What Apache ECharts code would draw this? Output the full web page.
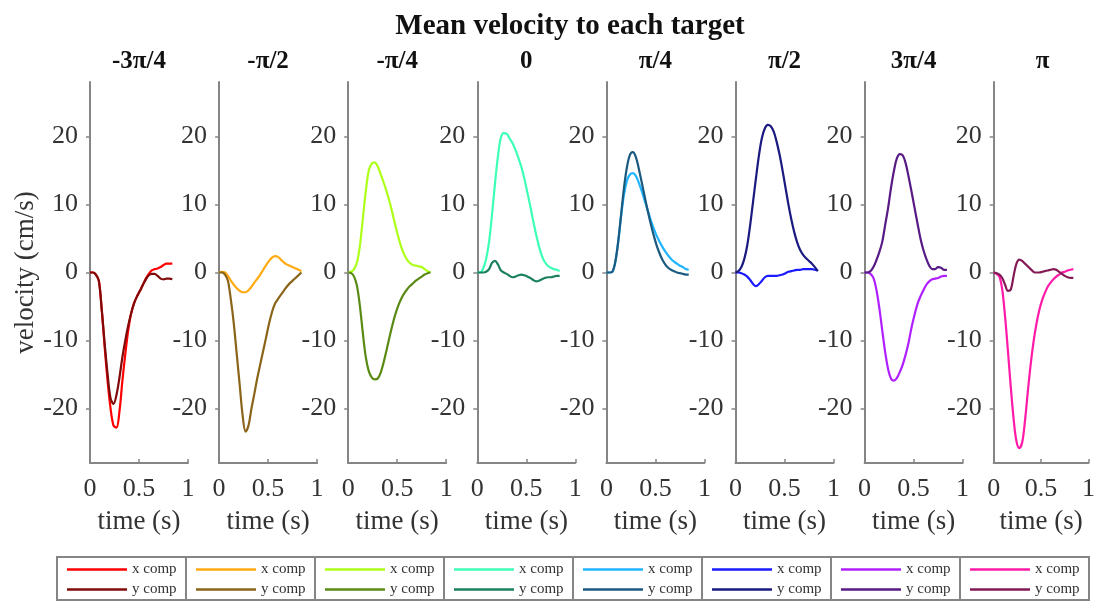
<!DOCTYPE html>
<html>
<head>
<meta charset="utf-8">
<title>Mean velocity to each target</title>
<script src="https://cdn.jsdelivr.net/npm/echarts@6/dist/echarts.min.js"></script>
<style>
  html, body { margin: 0; padding: 0; background: #fff; }
  #chart { width: 1098px; height: 602px; }
</style>
</head>
<body>
<div id="chart"></div>
<script>
// Sample times (s) shared by every trace
const time = [0, 0.03, 0.06, 0.09, 0.12, 0.15, 0.18, 0.21, 0.24, 0.27, 0.30, 0.33, 0.36, 0.39, 0.42,
              0.45, 0.48, 0.51, 0.54, 0.57, 0.60, 0.63, 0.66, 0.69, 0.72, 0.75, 0.78, 0.81, 0.84];

// Target directions, one panel each
const targets = ['-3π/4', '-π/2', '-π/4', '0', 'π/4', 'π/2', '3π/4', 'π'];

// Mean velocity (cm/s), x and y components per target
const xNeg3Pi4 = [0, 0, -0.3, -1.2, -5.5, -11, -16, -20, -22.5, -22.8, -20.5, -16, -12, -8.5, -6,
                  -4.5, -3.5, -2.7, -1.8, -0.9, -0.2, 0.3, 0.5, 0.6, 0.8, 1.1, 1.3, 1.3, 1.3];
const yNeg3Pi4 = [0, 0, -0.3, -1.2, -5.5, -10.5, -15, -18.5, -19.3, -18, -15.5, -12.5, -10, -7.8, -6,
                  -4.5, -3.5, -2.7, -1.8, -1.0, -0.4, -0.2, -0.2, -0.5, -0.9, -1.0, -0.9, -0.9, -1.0];

const xNegPi2 = [0, 0.1, 0, -0.5, -1.2, -1.8, -2.3, -2.7, -2.9, -2.9, -2.6, -2.1, -1.5, -0.9, -0.3,
                 0.4, 1.1, 1.7, 2.2, 2.4, 2.3, 1.9, 1.5, 1.2, 1.0, 0.8, 0.6, 0.4, 0.2];
const yNegPi2 = [0, 0, -0.3, -1.2, -4, -7.5, -12, -16.5, -21, -23.4, -22.5, -20, -17.8, -15.5, -13.5,
                 -11.5, -9.5, -7.5, -5.8, -4.6, -3.9, -3.3, -2.7, -2.1, -1.6, -1.2, -0.8, -0.4, 0];

const xNegPi4 = [0, 0.1, 0.5, 1.5, 4, 8, 12, 15, 16, 16.2, 15.6, 14.5, 13.3, 12, 10.5,
                 8.8, 7.0, 5.3, 3.8, 2.7, 1.9, 1.4, 1.1, 1.0, 0.9, 0.8, 0.5, 0.2, 0];
const yNegPi4 = [0, -0.1, -0.6, -2, -5, -9, -12.5, -14.5, -15.4, -15.7, -15.6, -14.8, -13.3, -11.5, -9.6,
                 -7.8, -6.2, -4.9, -3.9, -3.1, -2.5, -2.0, -1.6, -1.2, -0.9, -0.6, -0.3, -0.1, 0];

const xZero = [0, 0, 0.6, 2, 4.5, 8.5, 13, 17, 19.8, 20.5, 20.4, 19.7, 19, 18, 16.8,
               15.5, 13.8, 11.8, 9.8, 7.6, 5.6, 3.8, 2.4, 1.5, 1.0, 0.7, 0.5, 0.4, 0.2];
const yZero = [0, 0, 0, 0.1, 0.5, 1.4, 1.7, 1.2, 0.3, 0, -0.2, -0.5, -0.7, -0.6, -0.4,
               -0.3, -0.4, -0.6, -0.8, -1.1, -1.3, -1.2, -1.0, -0.8, -0.7, -0.7, -0.6, -0.5, -0.5];

const xPi4 = [0, 0, 0.1, 1.5, 4.5, 8.3, 11.5, 13.5, 14.4, 14.6, 14.2, 13.2, 12, 10.6, 9.2,
              7.8, 6.6, 5.5, 4.6, 3.8, 3.1, 2.5, 2.0, 1.6, 1.3, 1.0, 0.8, 0.5, 0.4];
const yPi4 = [0, 0, 0.1, 1.5, 4.5, 8.5, 12.5, 15.5, 17.3, 17.7, 17, 15.3, 13.3, 11.2, 9.2,
              7.3, 5.6, 4.1, 2.9, 1.9, 1.2, 0.7, 0.4, 0.2, 0, -0.1, -0.2, -0.3, -0.3];

const xPi2 = [0, 0, -0.1, -0.3, -0.6, -1.1, -1.7, -2.0, -1.7, -1.2, -0.7, -0.5, -0.5, -0.5, -0.5,
              -0.4, -0.3, -0.1, 0.1, 0.2, 0.3, 0.4, 0.4, 0.5, 0.5, 0.5, 0.5, 0.4, 0.3];
const yPi2 = [0, 0.2, 0.8, 2, 4, 7, 10.5, 14, 17.3, 19.8, 21.2, 21.7, 21.5, 20.7, 19.2,
              17.3, 15, 12.5, 10, 7.8, 5.9, 4.4, 3.3, 2.6, 2.1, 1.7, 1.3, 0.8, 0.2];

const x3Pi4 = [0, 0, -0.2, -0.8, -2.5, -5.2, -8.5, -11.7, -14.2, -15.6, -15.9, -15.5, -14.6, -13.5, -12,
               -10.2, -8, -6.2, -4.6, -3.5, -2.6, -1.8, -1.3, -1.0, -0.9, -0.8, -0.6, -0.5, -0.5];
const y3Pi4 = [0, 0, 0.2, 0.8, 1.8, 3, 4.5, 7, 9.5, 12.5, 15, 16.8, 17.4, 17.2, 16,
               14, 11.8, 9.5, 7.2, 5, 3.3, 2, 1, 0.5, 0.5, 0.8, 0.7, 0.4, 0.4];

const xPi = [0, -0.2, -0.6, -2.5, -6.5, -11.5, -16.8, -21.5, -24.8, -25.8, -25, -21.8, -17.5, -13.5, -10.2,
             -7.6, -5.6, -4.1, -3, -2.1, -1.5, -1.0, -0.6, -0.3, 0, 0.1, 0.3, 0.4, 0.5];
const yPi = [0, -0.1, -0.3, -0.8, -1.8, -2.7, -2.5, -0.5, 1.3, 1.9, 1.7, 1.3, 0.9, 0.5, 0.1,
             0, 0, 0.1, 0.2, 0.3, 0.4, 0.5, 0.4, 0.1, -0.2, -0.5, -0.7, -0.8, -0.8];

const xComponents = [xNeg3Pi4, xNegPi2, xNegPi4, xZero, xPi4, xPi2, x3Pi4, xPi];
const yComponents = [yNeg3Pi4, yNegPi2, yNegPi4, yZero, yPi4, yPi2, y3Pi4, yPi];

// Axis ticks
const yTicks = [-20, -10, 0, 10, 20];

// Trace colours: bright for x, darker shade of the same hue for y
const xColors = ['#ff0000', '#ffaa10', '#adff1a', '#3dffb5', '#20b5ff', '#1a1aff', '#b020ff', '#ff1aa8'];
const yColors = ['#800a0a', '#8a6418', '#588a14', '#1a8060', '#1a5a80', '#1a1a80', '#581a85', '#841a55'];

const serif = "'Liberation Serif', 'Times New Roman', serif";
const axisGray = '#858585';
const textColor = '#333333';

const panelLeft = 90, panelStep = 129.1, panelWidth = 98, panelTop = 82, panelHeight = 381;
const legendLeft = 57, legendStep = 129, legendTop = 557, legendHeight = 43;

const grids = [], xAxes = [], yAxes = [], series = [], legends = [], graphics = [];

targets.forEach((name, i) => {
  const left = panelLeft + i * panelStep;
  grids.push({ left: left, top: panelTop, width: panelWidth, height: panelHeight, containLabel: false });

  xAxes.push({
    type: 'value', gridIndex: i, min: 0, max: 1, interval: 0.5,
    name: 'time (s)', nameLocation: 'middle', nameGap: 45,
    nameTextStyle: { fontFamily: serif, fontSize: 27, color: textColor },
    axisLine: { show: true, onZero: false, lineStyle: { color: axisGray, width: 2 } },
    axisTick: { show: true, inside: true, length: 4, lineStyle: { color: axisGray, width: 1.5 } },
    axisLabel: { fontFamily: serif, fontSize: 26, color: textColor, margin: 13,
                 showMinLabel: true, showMaxLabel: true },
    splitLine: { show: false }
  });

  yAxes.push({
    type: 'value', gridIndex: i, min: -28, max: 28,
    name: i === 0 ? 'velocity (cm/s)' : '', nameLocation: 'middle', nameGap: 46,
    nameTextStyle: { fontFamily: serif, fontSize: 27, color: textColor },
    axisLine: { show: true, onZero: false, lineStyle: { color: axisGray, width: 2 } },
    axisTick: { show: true, inside: false, length: 4, customValues: yTicks,
                lineStyle: { color: axisGray, width: 1.5 } },
    axisLabel: { fontFamily: serif, fontSize: 26, color: textColor, margin: 12, customValues: yTicks },
    splitLine: { show: false }
  });

  const xName = name + ' x comp';
  const yName = name + ' y comp';
  series.push({
    name: xName, type: 'line', xAxisIndex: i, yAxisIndex: i,
    data: time.map((t, k) => [t, xComponents[i][k]]),
    symbol: 'none', smooth: 0.35, color: xColors[i],
    lineStyle: { width: 2.2, color: xColors[i] }, z: 2
  });
  series.push({
    name: yName, type: 'line', xAxisIndex: i, yAxisIndex: i,
    data: time.map((t, k) => [t, yComponents[i][k]]),
    symbol: 'none', smooth: 0.35, color: yColors[i],
    lineStyle: { width: 2.2, color: yColors[i] }, z: 3
  });

  legends.push({
    data: [xName, yName], orient: 'vertical', selectedMode: false,
    left: legendLeft + i * legendStep + 10, top: legendTop + 5, padding: 0,
    icon: 'rect', itemWidth: 60, itemHeight: 2.5, itemGap: 5,
    formatter: n => n.split(' ').slice(1).join(' '),
    textStyle: { fontFamily: serif, fontSize: 15, lineHeight: 15, color: textColor }
  });

  // legend cell frame
  graphics.push({
    type: 'rect', silent: true,
    shape: { x: legendLeft + i * legendStep, y: legendTop, width: legendStep, height: legendHeight },
    style: { fill: 'none', stroke: axisGray, lineWidth: 2 }
  });

  // panel heading
  graphics.push({
    type: 'text', silent: true,
    x: left + panelWidth / 2, y: 62,
    style: { text: name, font: 'bold 25px ' + serif, fill: '#111', align: 'center', verticalAlign: 'middle' }
  });
});

graphics.push({
  type: 'text', silent: true, x: 570, y: 27,
  style: { text: 'Mean velocity to each target', font: 'bold 29px ' + serif, fill: '#111',
           align: 'center', verticalAlign: 'middle' }
});

const chart = echarts.init(document.getElementById('chart'), null, { renderer: 'canvas' });
chart.setOption({
  animation: false,
  backgroundColor: '#ffffff',
  grid: grids,
  xAxis: xAxes,
  yAxis: yAxes,
  series: series,
  legend: legends,
  graphic: graphics
});
</script>
</body>
</html>
